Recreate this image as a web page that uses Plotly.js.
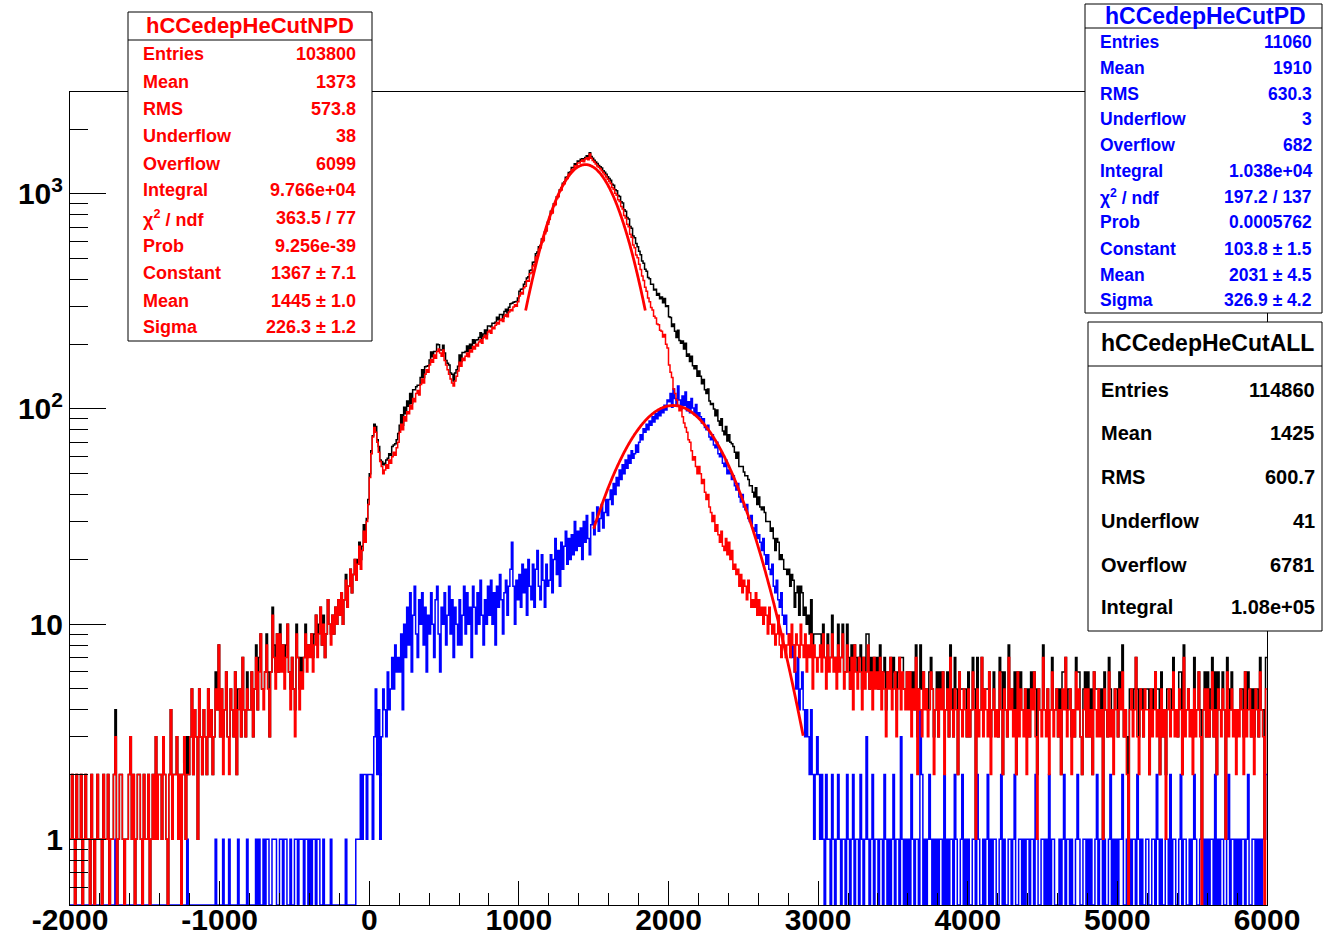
<!DOCTYPE html>
<html>
<head>
<meta charset="utf-8">
<script src="https://cdn.plot.ly/plotly-3.0.1.min.js"></script>
<style>
  html, body { margin: 0; padding: 0; background: #ffffff; }
  #chart { width: 1323px; height: 936px; }
</style>
</head>
<body>
<div id="chart"></div>
<script>
// Energy deposit histograms: 800 bins of width 10 from -2000 to 6000.
const binLow = -2000;
const binWidth = 10;

// hCCedepHeCutNPD bin contents, one row per 200 units starting at -2000
const npdCounts = [
  1,2,1,0,2,1,1,2,0,1,2,1,1,0,2,1,0,1,2,1,
  1,0,2,1,1,2,0,1,1,2,3,0,1,2,2,1,0,1,1,2,
  3,1,2,0,1,2,2,1,0,2,1,1,2,0,1,2,1,3,1,2,
  2,1,3,2,1,0,2,4,1,2,2,3,1,2,0,2,3,1,2,2,
  3,5,2,4,3,1,5,3,2,4,3,2,5,3,4,2,3,5,4,8,
  3,5,2,4,6,3,2,5,4,3,6,2,4,5,3,7,4,3,5,4,
  4,6,3,5,7,4,6,9,5,4,6,8,5,3,6,11,7,5,9,6,
  9,6,8,5,7,10,6,4,7,5,3,9,7,4,6,5,7,9,6,8,
  7,9,6,8,11,7,9,12,8,10,7,9,13,10,8,11,9,12,10,13,
  11,14,10,13,16,12,15,18,14,17,20,16,19,23,18,22,27,24,30,36,
  48,62,74,82,78,70,63,57,54,50,52,55,53,58,56,60,63,61,66,70,
  78,85,80,92,88,97,95,104,100,112,108,118,122,116,130,138,132,145,152,148,
  160,170,165,178,172,185,190,182,176,188,168,160,152,145,138,132,128,135,142,150,
  165,158,172,168,176,182,175,188,184,195,190,200,196,205,210,202,215,220,212,228,
  232,225,240,236,245,252,248,258,262,255,270,275,268,282,290,286,298,305,300,315,
  335,348,342,366,372,395,392,425,430,462,470,508,515,552,562,595,605,652,672,722,
  760,808,815,880,890,952,968,1030,1040,1102,1112,1168,1178,1232,1242,1298,1300,1350,1348,1392,
  1392,1418,1436,1410,1452,1470,1440,1530,1462,1428,1405,1376,1348,1328,1306,1280,1252,1226,1196,1168,
  1140,1115,1070,1050,1005,985,938,920,872,850,792,772,722,702,648,628,578,562,520,505,
  470,445,415,395,368,352,328,315,296,288,270,265,248,246,232,230,216,222,200,192,
  160,148,140,124,118,110,104,98,102,92,86,82,78,72,70,64,58,60,54,50,
  54,50,45,47,41,38,40,35,33,30,32,27,29,26,24,27,23,22,25,21,
  24,20,22,18,19,17,18,15,17,14,16,15,13,16,14,12,13,12,14,11,
  13,11,12,10,12,11,9,12,10,9,10,8,9,11,8,7,9,8,7,8,
  9,7,10,8,6,9,8,7,10,8,7,9,6,8,7,9,5,8,7,6,
  7,8,6,9,7,5,8,6,7,9,6,7,5,8,6,7,9,5,6,8,
  6,5,7,4,8,6,5,7,6,4,7,5,6,8,5,6,4,7,5,6,
  5,7,4,6,5,3,6,5,7,4,5,6,3,5,7,4,6,5,4,6,
  4,6,3,5,4,7,2,5,4,3,6,4,5,3,4,6,5,2,4,5,
  3,5,4,6,2,4,5,3,7,4,3,5,4,2,6,4,3,5,4,3,
  5,3,4,6,4,1,5,3,4,7,3,5,4,3,6,2,4,5,3,4,
  3,6,4,2,5,4,3,7,4,5,3,4,2,6,3,5,4,3,5,2,
  4,3,5,4,6,3,1,5,4,3,7,4,3,5,2,4,6,3,4,5,
  3,4,2,5,4,7,3,4,5,2,4,3,6,4,5,3,2,4,5,3,
  5,3,4,2,6,4,3,5,3,4,1,5,4,3,6,3,4,2,5,4,
  3,5,4,6,3,4,2,0,4,5,3,4,7,3,2,5,4,3,5,4,
  4,2,5,3,4,6,3,4,2,5,3,4,1,4,5,3,4,6,3,4,
  3,5,4,2,7,3,4,5,3,4,2,5,3,4,6,3,0,4,5,3,
  5,3,4,6,3,4,2,5,4,3,5,4,1,6,3,4,5,3,4,2,
  4,3,5,4,2,6,3,4,5,3,4,2,5,4,3,6,4,3,0,5
];

// hCCedepHeCutPD bin contents, same binning
const pdCounts = [
  0,0,0,0,0,0,0,0,0,0,0,0,0,0,0,0,0,0,0,0,
  0,0,0,0,0,0,0,0,0,0,1,0,0,0,0,0,0,0,0,0,
  0,0,0,0,0,0,0,0,0,0,0,0,0,0,0,0,0,0,0,0,
  0,0,0,0,0,0,0,0,0,0,0,0,0,0,0,0,0,0,1,0,
  0,0,0,0,0,0,0,0,0,0,0,0,0,0,0,0,0,1,0,0,
  0,0,1,0,0,0,1,0,0,0,0,0,1,0,0,0,0,0,1,0,
  0,0,0,0,1,0,1,0,0,1,0,1,1,0,0,1,1,1,0,0,
  1,1,0,1,1,0,0,1,0,0,1,1,0,1,1,1,0,1,1,0,
  1,0,1,1,0,1,1,0,0,1,0,0,0,0,1,0,0,0,0,0,
  0,0,0,0,1,0,0,0,0,0,0,1,1,1,2,1,2,2,1,2,
  2,2,1,3,5,2,4,1,3,5,4,3,6,4,5,7,5,8,6,7,
  6,9,4,10,7,12,8,14,6,11,15,9,7,13,10,14,8,12,6,11,
  9,14,10,7,13,15,9,6,12,10,14,8,11,15,9,13,7,12,10,8,
  13,8,11,15,9,14,10,12,7,15,12,9,14,10,16,11,8,13,10,15,
  11,16,10,14,8,15,12,17,13,9,14,16,11,15,18,24,15,10,16,13,
  17,12,19,14,18,11,20,15,13,19,12,18,22,15,13,21,16,12,19,15,
  16,21,14,20,25,17,22,15,24,18,23,27,19,25,20,26,21,30,22,27,
  23,28,20,30,24,32,25,21,29,33,26,30,35,27,31,36,28,33,38,32,
  38,42,36,45,40,48,44,52,47,55,50,58,53,61,56,64,59,62,68,63,
  70,76,72,81,78,85,80,88,84,92,87,95,90,98,93,101,96,104,99,110,
  108,118,102,124,112,105,128,110,100,115,104,120,98,108,96,112,101,94,105,92,
  96,92,86,90,82,80,84,74,72,76,68,66,70,62,60,63,56,54,58,50,
  52,50,47,49,44,42,45,39,37,40,35,34,36,31,30,32,28,27,29,25,
  26,24,22,25,21,19,21,18,17,19,15,14,16,13,12,14,11,10,11,9,
  9,8,7,8,6,5,7,4,5,6,4,3,4,3,2,4,2,1,2,3,
  2,1,2,1,0,2,1,1,0,2,1,0,1,2,1,0,1,1,0,2,
  1,0,1,2,0,1,1,0,2,1,0,1,3,1,0,1,2,0,1,1,
  0,1,1,0,2,1,0,1,0,1,2,0,1,1,0,3,1,0,1,0,
  1,0,2,1,0,1,1,0,4,2,0,1,0,1,2,1,0,1,0,1,
  0,1,1,0,2,0,1,0,1,1,0,2,1,0,0,1,2,0,1,0,
  1,0,0,1,1,0,2,1,0,0,1,0,1,2,0,1,0,1,1,0,
  0,1,2,0,1,0,0,1,1,0,1,2,0,0,1,1,0,1,0,1,
  1,0,1,1,0,2,1,0,0,1,1,0,1,0,2,0,1,1,0,0,
  0,1,0,1,2,0,1,1,0,1,0,0,1,2,1,0,0,1,1,0,
  1,0,1,0,0,1,2,0,1,1,0,1,0,0,1,2,0,1,0,1,
  0,1,1,2,0,0,1,0,1,0,1,1,0,2,1,0,1,0,0,1,
  1,0,0,1,1,0,2,1,0,1,0,0,1,1,0,2,0,1,1,0,
  0,1,2,0,1,1,0,0,1,0,1,2,1,0,0,1,1,0,1,0,
  1,0,1,1,0,2,0,1,0,1,1,0,0,1,2,0,1,1,0,1,
  0,1,0,1,1,0,1,2,0,0,1,1,0,1,0,1,0,1,1,2
];

// Gaussian fit results [Constant, Mean, Sigma] and fitted ranges
const npdFitPars = [1367, 1445, 226.3];
const npdFitRange = [1045, 1845];
const pdFitPars = [103.8, 2031, 326.9];
const pdFitRange = [1500, 2900];

// Statistics boxes
const npdStatLabels = ['Entries', 'Mean', 'RMS', 'Underflow', 'Overflow', 'Integral',
  '\u03c7<sup>2</sup> / ndf', 'Prob', 'Constant', 'Mean', 'Sigma'];
const npdStatValues = ['103800', '1373', '573.8', '38', '6099', '9.766e+04',
  '363.5 / 77', '9.256e-39', '1367 \u00b1 7.1', '1445 \u00b1 1.0', '226.3 \u00b1 1.2'];
const pdStatLabels = npdStatLabels;
const pdStatValues = ['11060', '1910', '630.3', '3', '682', '1.038e+04',
  '197.2 / 137', '0.0005762', '103.8 \u00b1 1.5', '2031 \u00b1 4.5', '326.9 \u00b1 4.2'];
const allStatLabels = ['Entries', 'Mean', 'RMS', 'Underflow', 'Overflow', 'Integral'];
const allStatValues = ['114860', '1425', '600.7', '41', '6781', '1.08e+05'];

// Axis ticks
const xTickVals = [-2000, -1000, 0, 1000, 2000, 3000, 4000, 5000, 6000];
const xTickText = ['-2000', '-1000', '0', '1000', '2000', '3000', '4000', '5000', '6000'];
const yTickVals = [1, 10, 100, 1000];
const yTickText = ['1', '10', '10<sup>2</sup>', '10<sup>3</sup>'];
const yMinorVals = [0.5, 0.6, 0.7, 0.8, 0.9, 2, 3, 4, 5, 6, 7, 8, 9,
  20, 30, 40, 50, 60, 70, 80, 90, 200, 300, 400, 500, 600, 700, 800, 900, 2000];

// ---------------------------------------------------------------------------
const W = 1323, H = 936;
const frame = { l: 70, r: 1267, t: 92, b: 905 };
const yLogRange = [-0.305, 3.473];
const FLOOR = Math.pow(10, yLogRange[0]);   // empty bins sit on the frame bottom
const FONT = 'Liberation Sans, Arial, Helvetica, sans-serif';

// The combined sample is the bin-by-bin sum of the two sub-samples
const allCounts = npdCounts.map((v, i) => v + pdCounts[i]);

function stepTrace(counts, color) {
  const x = [], y = [];
  counts.forEach((c, i) => {
    x.push(binLow + i * binWidth);
    y.push(c > 0 ? c : FLOOR);
  });
  const last = counts[counts.length - 1];
  x.push(binLow + counts.length * binWidth);
  y.push(last > 0 ? last : FLOOR);
  return {
    type: 'scatter', mode: 'lines', x: x, y: y,
    line: { color: color, width: 1.5, shape: 'hv' },
    hoverinfo: 'skip', showlegend: false
  };
}

function gausTrace(pars, range) {
  const x = [], y = [];
  for (let v = range[0]; v <= range[1] + 1e-9; v += 5) {
    const z = (v - pars[1]) / pars[2];
    x.push(v);
    y.push(pars[0] * Math.exp(-0.5 * z * z));
  }
  return {
    type: 'scatter', mode: 'lines', x: x, y: y,
    line: { color: '#ff0000', width: 2.8, shape: 'spline' },
    hoverinfo: 'skip', showlegend: false
  };
}

// pixel -> paper helpers
const px = v => (v - frame.l) / (frame.r - frame.l);
const py = v => (frame.b - v) / (frame.b - frame.t);

const shapes = [];
const annotations = [];

function statBox(opt) {
  shapes.push({
    type: 'rect', xref: 'paper', yref: 'paper', layer: 'above',
    x0: px(opt.x0), x1: px(opt.x1), y0: py(opt.y1), y1: py(opt.y0),
    fillcolor: '#ffffff', line: { color: '#000000', width: 1 }
  });
  shapes.push({
    type: 'line', xref: 'paper', yref: 'paper', layer: 'above',
    x0: px(opt.x0), x1: px(opt.x1), y0: py(opt.sep), y1: py(opt.sep),
    line: { color: '#000000', width: 1 }
  });
  annotations.push({
    xref: 'paper', yref: 'paper', x: px(opt.titleX), y: py(opt.titleY),
    xanchor: 'center', yanchor: 'middle', showarrow: false, text: opt.title,
    font: { family: FONT, size: opt.titleSize, color: opt.color, weight: 'bold' }
  });
  opt.labels.forEach((lab, i) => {
    annotations.push({
      xref: 'paper', yref: 'paper', x: px(opt.labelX), y: py(opt.rows[i]),
      xanchor: 'left', yanchor: 'middle', showarrow: false, text: lab,
      font: { family: FONT, size: opt.size, color: opt.color, weight: 'bold' }
    });
    annotations.push({
      xref: 'paper', yref: 'paper', x: px(opt.valueX), y: py(opt.rows[i]),
      xanchor: 'right', yanchor: 'middle', showarrow: false, text: opt.values[i],
      font: { family: FONT, size: opt.size, color: opt.color, weight: 'bold' }
    });
  });
}

statBox({
  x0: 128, x1: 372, y0: 12, y1: 341, sep: 40,
  title: 'hCCedepHeCutNPD', titleX: 250, titleY: 26, titleSize: 22,
  labels: npdStatLabels, values: npdStatValues, color: '#ff0000', size: 18,
  labelX: 141, valueX: 358,
  rows: [54, 82, 109, 136, 164, 190, 218, 246, 273, 301, 327]
});
statBox({
  x0: 1085, x1: 1322, y0: 4, y1: 313, sep: 28,
  title: 'hCCedepHeCutPD', titleX: 1205, titleY: 16, titleSize: 23,
  labels: pdStatLabels, values: pdStatValues, color: '#0000ff', size: 17.5,
  labelX: 1098, valueX: 1314,
  rows: [42, 68, 94, 119, 145, 171, 197, 222, 249, 275, 300]
});
statBox({
  x0: 1088, x1: 1322, y0: 322, y1: 631, sep: 366,
  title: 'hCCedepHeCutALL', titleX: 1207, titleY: 343, titleSize: 23,
  labels: allStatLabels, values: allStatValues, color: '#000000', size: 20,
  labelX: 1099, valueX: 1317,
  rows: [390, 433, 477, 521, 565, 607]
});

const traces = [
  stepTrace(allCounts, '#000000'),
  stepTrace(pdCounts, '#0000ff'),
  stepTrace(npdCounts, '#ff0000'),
  gausTrace(npdFitPars, npdFitRange),
  gausTrace(pdFitPars, pdFitRange),
  { type: 'scatter', mode: 'lines', x: [], y: [], yaxis: 'y2', hoverinfo: 'skip', showlegend: false }
];

const tickFont = { family: FONT, size: 30, color: '#000000', weight: 'bold' };

const layout = {
  width: W, height: H,
  margin: { l: frame.l, r: W - frame.r, t: frame.t, b: H - frame.b, pad: 0 },
  paper_bgcolor: '#ffffff', plot_bgcolor: '#ffffff',
  showlegend: false,
  xaxis: {
    range: [-2000, 6000], fixedrange: true,
    tickmode: 'array', tickvals: xTickVals, ticktext: xTickText,
    ticks: 'inside', ticklen: 24, tickwidth: 1, tickcolor: '#000000',
    ticklabelstandoff: -12,
    minor: { dtick: 200, tick0: 0, ticks: 'inside', ticklen: 12, tickwidth: 1, tickcolor: '#000000', showgrid: false },
    showline: true, mirror: true, linecolor: '#000000', linewidth: 1,
    showgrid: false, zeroline: false, automargin: false,
    tickfont: tickFont
  },
  yaxis: {
    type: 'log', range: yLogRange, fixedrange: true,
    tickmode: 'array', tickvals: yTickVals, ticktext: yTickText,
    ticks: 'inside', ticklen: 36, tickwidth: 1, tickcolor: '#000000',
    showline: true, mirror: true, linecolor: '#000000', linewidth: 1,
    showgrid: false, zeroline: false, automargin: false,
    tickfont: tickFont
  },
  yaxis2: {
    type: 'log', range: yLogRange, overlaying: 'y', side: 'left', anchor: 'x',
    fixedrange: true, tickmode: 'array', tickvals: yMinorVals,
    ticks: 'inside', ticklen: 18, tickwidth: 1, tickcolor: '#000000',
    showticklabels: false, showline: false, showgrid: false, zeroline: false
  },
  shapes: shapes,
  annotations: annotations
};

Plotly.newPlot('chart', traces, layout, { displayModeBar: false, staticPlot: true });
</script>
</body>
</html>
